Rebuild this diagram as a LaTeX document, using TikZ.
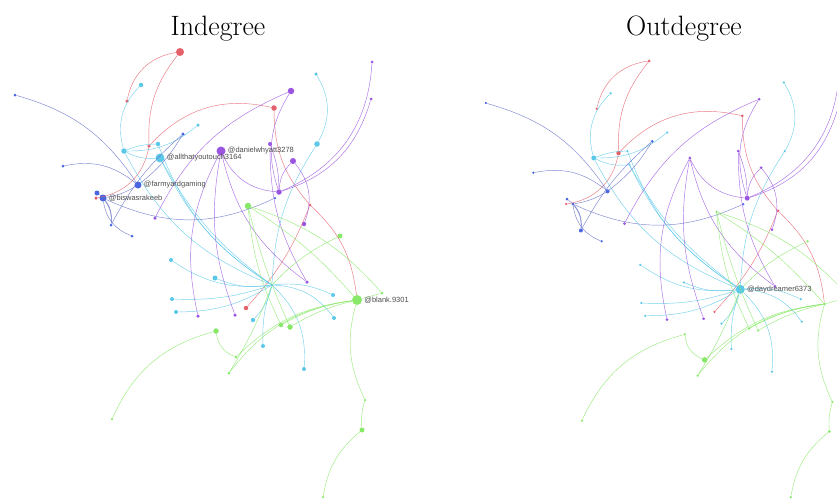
\documentclass[tikz,border=0pt]{standalone}
\usepackage{fontspec}
\setsansfont{Liberation Sans}
\usetikzlibrary{positioning}
\definecolor{cR}{HTML}{E4606A}
\definecolor{cC}{HTML}{5BC8E8}
\definecolor{cB}{HTML}{4A66E0}
\definecolor{cBe}{HTML}{6470C8}
\definecolor{cP}{HTML}{9A55E0}
\definecolor{cG}{HTML}{88E868}
\begin{document}
\begin{tikzpicture}[x=1pt,y=-1pt,
    nd/.style={circle,inner sep=0pt,draw=none},
    arc/.style={bend left=#1},
    ed/.style={line width=0.45pt,opacity=0.85},
    eR/.style={ed,draw=cR},eC/.style={ed,draw=cC},eB/.style={ed,draw=cBe},
    eP/.style={ed,draw=cP},eG/.style={ed,draw=cG},
    lbl/.style={font=\sffamily\fontsize{7.5}{8}\selectfont,text=black!70,inner sep=0pt},
    ttl/.style={font=\fontsize{28}{32}\selectfont,anchor=base}]
    \useasboundingbox (0,0) rectangle (837,499);
    \clip (0,0) rectangle (837,499);
    \newcommand\netgraph{
        % red
        \node[nd,fill=cR,sz={8}{3}] (r1) at (180,52) {};
        \node[nd,fill=cR,sz={3.5}{2.5}] (r2) at (127,101) {};
        \node[nd,fill=cR,sz={5.5}{3}] (r3) at (274,108) {};
        \node[nd,fill=cR,sz={3.5}{4.5}] (r4) at (149,146) {};
        \node[nd,fill=cR,sz={3.5}{2.5}] (r5) at (96,198) {};
        \node[nd,fill=cR,sz={3}{3}] (r6) at (310,205) {};
        \node[nd,fill=cR,sz={4.5}{2.5}] (r7) at (246,308) {};
        % cyan
        \node[nd,fill=cC,sz={4.5}{2.5}] (c1) at (141,85) {};
        \node[nd,fill=cC,sz={3.5}{2.5}] (c2) at (316,74) {};
        \node[nd,fill=cC,sz={3.5}{2.5}] (c3) at (198,125) {};
        \node[nd,fill=cC,sz={5.5}{5}] (c4) at (124,151) {};
        \node[nd,fill=cC,sz={4.5}{2.5}] (c5) at (158,144) {};
        \node[nd,fill=cC,sz={9}{2.5}] (c6) at (160,158) {};
        \node[nd,fill=cC,sz={5.5}{2.5}] (c7) at (317,144) {};
        \node[nd,fill=cC,sz={4}{2.5}] (c8) at (171,260) {};
        \node[nd,fill=cC,sz={5}{2.5}] (c9) at (215,278) {};
        \node[nd,fill=cC,sz={3}{9}] (hub) at (272,285) {};
        \node[nd,fill=cC,sz={4}{2.5}] (c10) at (333,295) {};
        \node[nd,fill=cC,sz={4}{2.5}] (c11) at (172,299) {};
        \node[nd,fill=cC,sz={4}{2.5}] (c12) at (176,312) {};
        \node[nd,fill=cC,sz={4.5}{2.5}] (c13) at (253,320) {};
        \node[nd,fill=cC,sz={4}{2.5}] (c14) at (334,318) {};
        \node[nd,fill=cC,sz={4}{2.5}] (c15) at (263,346) {};
        \node[nd,fill=cC,sz={4}{2.5}] (c16) at (304,369) {};
        % purple
        \node[nd,fill=cP,sz={6.5}{3}] (p1) at (291,91) {};
        \node[nd,fill=cP,sz={3}{3}] (p2) at (372,62) {};
        \node[nd,fill=cP,sz={3}{3}] (p3) at (371,99) {};
        \node[nd,fill=cP,sz={9}{3}] (p4) at (221,151) {};
        \node[nd,fill=cP,sz={4}{3}] (p5) at (270,144) {};
        \node[nd,fill=cP,sz={6}{3}] (p6) at (293,161) {};
        \node[nd,fill=cP,sz={5.5}{5}] (p7) at (279,192) {};
        \node[nd,fill=cP,sz={3.5}{3}] (p8) at (155,218) {};
        \node[nd,fill=cP,sz={4.5}{3}] (p9) at (304,224) {};
        \node[nd,fill=cP,sz={3.5}{3}] (p10) at (307,282) {};
        \node[nd,fill=cP,sz={3.5}{3}] (p11) at (198,316) {};
        \node[nd,fill=cP,sz={3.5}{3}] (p12) at (235,315) {};
        % blue
        \node[nd,fill=cB,sz={3}{2.5}] (b1) at (15,95) {};
        \node[nd,fill=cB,sz={3.5}{3}] (b2) at (183,134) {};
        \node[nd,fill=cB,sz={3}{2.5}] (b3) at (63,166) {};
        \node[nd,fill=cB,sz={7}{4}] (b4) at (138,185) {};
        \node[nd,fill=cB,sz={5}{3}] (b5) at (97,193) {};
        \node[nd,fill=cB,sz={7}{3}] (b6) at (103,198) {};
        \node[nd,fill=cB,sz={2.5}{2.5}] (b7) at (275,198) {};
        \node[nd,fill=cB,sz={3}{4}] (b8) at (111,225) {};
        \node[nd,fill=cB,sz={3}{2.5}] (b9) at (132,236) {};
        % green
        \node[nd,fill=cG,sz={6.5}{2.5}] (g1) at (248,206) {};
        \node[nd,fill=cG,sz={5}{2.5}] (g2) at (340,236) {};
        \node[nd,fill=cG,sz={3}{2.5}] (g3) at (382,293) {};
        \node[nd,fill=cG,sz={10}{3}] (blank) at (357,300) {};
        \node[nd,fill=cG,sz={4.5}{2.5}] (g4) at (281,325) {};
        \node[nd,fill=cG,sz={5.5}{2.5}] (g5) at (290,327) {};
        \node[nd,fill=cG,sz={5.5}{2.5}] (g6) at (216,331) {};
        \node[nd,fill=cG,sz={3}{5.5}] (g7) at (236,357) {};
        \node[nd,fill=cG,sz={3}{2.5}] (g8) at (229,373) {};
        \node[nd,fill=cG,sz={2.5}{2.5}] (g9) at (112,419) {};
        \node[nd,fill=cG,sz={2.5}{2.5}] (g10) at (365,400) {};
        \node[nd,fill=cG,sz={5}{3}] (g11) at (362,430) {};
        \node[nd,fill=cG,sz={2.5}{2.5}] (g12) at (323,497) {};
        % edges
        \draw[eR] (r1) to[arc=-35] (r2);
        \draw[eR] (r1) to[arc=-20] (r4);
        \draw[eR] (r4) to[arc=30] (r3);
        \draw[eR] (r3) to[arc=-20] (r6);
        \draw[eR] (r6) to[arc=20] (blank);
        \draw[eR] (r5) to[arc=-35] (r4);
        \draw[eR] (r7) to[arc=-10] (r6);
        \draw[eC] (c1) to[arc=-30] (c4);
        \draw[eC] (c4) to[arc=-20] (c3);
        \draw[eC] (c4) to[arc=-15] (c6);
        \draw[eC] (c4) to[arc=10] (c5);
        \draw[eC] (c4) to[arc=-20] (hub);
        \draw[eC] (c5) to[arc=-18] (hub);
        \draw[eC] (c6) to[arc=-15] (hub);
        \draw[eC] (c6) to[arc=-12] (hub);
        \draw[eC] (c2) to[arc=30] (c7);
        \draw[eC] (c7) to[arc=-15] (hub);
        \draw[eC] (hub) to[arc=20] (c8);
        \draw[eC] (hub) to[arc=15] (c9);
        \draw[eC] (hub) to[arc=10] (c11);
        \draw[eC] (hub) to[arc=15] (c12);
        \draw[eC] (hub) to[arc=15] (c13);
        \draw[eC] (hub) to[arc=-10] (c15);
        \draw[eC] (hub) to[arc=25] (c16);
        \draw[eC] (hub) to[arc=25] (c14);
        \draw[eC] (hub) to[arc=15] (c10);
        \draw[eP] (p4) to[arc=-30] (p7);
        \draw[eP] (p4) to[arc=-20] (p11);
        \draw[eP] (p4) to[arc=-15] (p12);
        \draw[eP] (p4) to[arc=-20] (p10);
        \draw[eP] (p1) to[arc=-20] (p8);
        \draw[eP] (p1) to[arc=-25] (p7);
        \draw[eP] (p2) to[arc=32] (p7);
        \draw[eP] (p3) to[arc=28] (p7);
        \draw[eP] (p5) to[arc=10] (p7);
        \draw[eP] (p5) to[arc=-15] (p10);
        \draw[eP] (p6) to[arc=30] (p9);
        \draw[eP] (p6) to[arc=-20] (p7);
        \draw[eB] (b1) to[arc=20] (b4);
        \draw[eB] (b3) to[arc=25] (b4);
        \draw[eB] (b2) to[arc=-10] (b8);
        \draw[eB] (b6) to[arc=-25] (b7);
        \draw[eB] (b6) to[arc=20] (b8);
        \draw[eB] (b6) to[arc=-30] (b9);
        \draw[eB] (b5) to[arc=30] (b8);
        \draw[eB] (b4) to[arc=10] (b6);
        \draw[eB] (b4) to[arc=-10] (b2);
        \draw[eG] (g1) to[arc=8] (blank);
        \draw[eG] (g1) to[arc=15] (g3);
        \draw[eG] (g1) to[arc=-5] (g5);
        \draw[eG] (g1) to[arc=-10] (g4);
        \draw[eG] (g2) to[arc=-10] (hub);
        \draw[eG] (blank) to[arc=-18] (g7);
        \draw[eG] (blank) to[arc=-22] (g8);
        \draw[eG] (blank) to[arc=-10] (g4);
        \draw[eG] (blank) to[arc=-8] (g5);
        \draw[eG] (g6) to[arc=-30] (g7);
        \draw[eG] (g6) to[arc=-25] (g9);
        \draw[eG] (g8) to[arc=-5] (hub);
        \draw[eG] (blank) to[arc=-20] (g10);
        \draw[eG] (g10) to[arc=-10] (g11);
        \draw[eG] (g11) to[arc=-20] (g12);
        \draw[eG] (g3) to (blank);
    }
    % Indegree
    \node[ttl] (tin) at (218,35) {Indegree};
    \begin{scope}[sz/.style 2 args={minimum size=#1pt}]
        \netgraph
        \node[lbl,right=2pt of p4] (p4t) {@danielwhyatt3278};
        \node[lbl,right=2pt of c6] (c6t) {@allthatyoutouch3164};
        \node[lbl,right=2pt of b4] (b4t) {@farmyardgaming};
        \node[lbl,right=2pt of b6] (b6t) {@biswasrakeeb};
        \node[lbl,right=2pt of blank] (blankt) {@blank.9301};
    \end{scope}
    % Outdegree
    \node[ttl] (tout) at (684,35) {Outdegree};
    \begin{scope}[xshift=471pt,yshift=-10pt,xscale=0.99,yscale=0.98,
        sz/.style 2 args={minimum size=#2pt}]
        \netgraph
        \node[lbl,right=2pt of hub] (hubt) {@daydreamer6373};
    \end{scope}
\end{tikzpicture}
\end{document}
